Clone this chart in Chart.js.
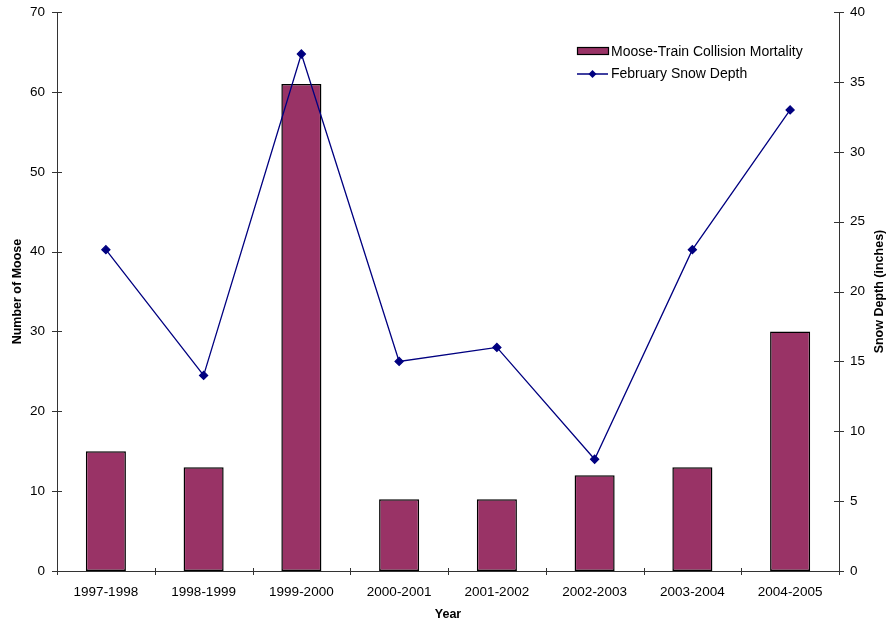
<!DOCTYPE html>
<html>
<head>
<meta charset="utf-8">
<script src="https://cdn.jsdelivr.net/npm/chart.js@4"></script>
<style>
  html, body { margin: 0; padding: 0; background: #fff; }
  #wrap { width: 888px; height: 626px; position: relative; }
</style>
</head>
<body>
<div id="wrap"><canvas id="c" width="888" height="626"></canvas></div>
<script>
const years = ['1997-1998','1998-1999','1999-2000','2000-2001','2001-2002','2002-2003','2003-2004','2004-2005'];
const mooseDeaths = [15, 13, 61, 9, 9, 12, 13, 30];
const snowDepth = [23, 14, 37, 15, 16, 8, 23, 33];
const mooseTicks = [0, 10, 20, 30, 40, 50, 60, 70];
const snowTicks = [0, 5, 10, 15, 20, 25, 30, 35, 40];

const FONT = 'Liberation Sans, Arial, sans-serif';
const AXIS_COLOR = '#333';
const BAR_LABEL = 'Moose-Train Collision Mortality';
const LINE_LABEL = 'February Snow Depth';
const RIGHT_TITLE = 'Snow Depth (inches)';

// Tick marks that straddle each axis line
const crossTicks = {
  id: 'crossTicks',
  afterDraw(chart) {
    const ctx = chart.ctx;
    const { x, yL, yR } = chart.scales;
    ctx.save();
    ctx.strokeStyle = AXIS_COLOR;
    ctx.lineWidth = 1;
    ctx.beginPath();
    const n = years.length;
    const step = (x.right - x.left) / n;
    for (let k = 0; k <= n; k++) {
      const px = Math.round(x.left + k * step) + 0.5;
      ctx.moveTo(px, x.top - 3);
      ctx.lineTo(px, x.top + 4);
    }
    mooseTicks.forEach(v => {
      const py = Math.round(yL.getPixelForValue(v)) + 0.5;
      ctx.moveTo(yL.right - 5, py);
      ctx.lineTo(yL.right + 5, py);
    });
    snowTicks.forEach(v => {
      const py = Math.round(yR.getPixelForValue(v)) + 0.5;
      ctx.moveTo(yR.left - 5, py);
      ctx.lineTo(yR.left + 5, py);
    });
    ctx.stroke();

    // right axis title, reading bottom to top
    const ca = chart.chartArea;
    ctx.translate(880, (ca.top + ca.bottom) / 2);
    ctx.rotate(-Math.PI / 2);
    ctx.font = 'bold 12.5px ' + FONT;
    ctx.fillStyle = '#000';
    ctx.textAlign = 'center';
    ctx.textBaseline = 'middle';
    ctx.fillText(RIGHT_TITLE, 0, 0);
    ctx.restore();
  }
};

// Legend block in the upper right of the plot
const cornerLegend = {
  id: 'cornerLegend',
  afterDraw(chart) {
    const ctx = chart.ctx;
    ctx.save();
    ctx.font = '14px ' + FONT;
    ctx.textBaseline = 'middle';
    // bar entry
    ctx.fillStyle = '#993366';
    ctx.fillRect(577.5, 47.5, 31, 7);
    ctx.strokeStyle = '#000';
    ctx.lineWidth = 1.2;
    ctx.strokeRect(577.5, 47.5, 31, 7);
    ctx.fillStyle = '#000';
    ctx.fillText(BAR_LABEL, 611, 52);
    // line entry
    ctx.strokeStyle = '#000080';
    ctx.lineWidth = 1.5;
    ctx.beginPath();
    ctx.moveTo(577, 74);
    ctx.lineTo(608, 74);
    ctx.stroke();
    ctx.fillStyle = '#000080';
    ctx.beginPath();
    ctx.moveTo(592.5, 70);
    ctx.lineTo(596.5, 74);
    ctx.lineTo(592.5, 78);
    ctx.lineTo(588.5, 74);
    ctx.closePath();
    ctx.fill();
    ctx.fillStyle = '#000';
    ctx.fillText(LINE_LABEL, 611, 74);
    ctx.restore();
  }
};

new Chart(document.getElementById('c'), {
  data: {
    labels: years,
    datasets: [
      {
        type: 'line',
        label: LINE_LABEL,
        data: snowDepth,
        yAxisID: 'yR',
        borderColor: '#000080',
        backgroundColor: '#000080',
        borderWidth: 1.3,
        pointStyle: 'rectRot',
        pointRadius: 4,
        pointHoverRadius: 4,
        tension: 0,
        order: 0
      },
      {
        type: 'bar',
        label: BAR_LABEL,
        data: mooseDeaths,
        yAxisID: 'yL',
        backgroundColor: '#993366',
        borderColor: '#000',
        borderWidth: 1.5,
        borderSkipped: false,
        categoryPercentage: 1.0,
        barPercentage: 0.41,
        order: 1
      }
    ]
  },
  options: {
    responsive: false,
    animation: false,
    layout: { padding: { top: 4, left: 0, right: 0, bottom: 0 } },
    plugins: { legend: { display: false }, tooltip: { enabled: false } },
    scales: {
      x: {
        offset: true,
        grid: { display: false },
        border: { display: true, color: AXIS_COLOR },
        ticks: { color: '#000', font: { family: FONT, size: 13.5 }, padding: 5, maxRotation: 0 },
        title: { display: true, text: 'Year', color: '#000', font: { family: FONT, size: 12.5, weight: 'bold' }, padding: { top: 2 } },
        afterFit(s) { s.height = 55; }
      },
      yL: {
        position: 'left',
        min: 0, max: 70,
        grid: { display: false },
        border: { display: true, color: AXIS_COLOR },
        ticks: { stepSize: 10, color: '#000', font: { family: FONT, size: 13.5 }, padding: 4 },
        title: { display: true, text: 'Number of Moose', color: '#000', font: { family: FONT, size: 12.5, weight: 'bold' }, padding: { top: 10, bottom: 0 } },
        afterFit(s) { s.width = 57; }
      },
      yR: {
        position: 'right',
        min: 0, max: 40,
        grid: { display: false },
        border: { display: true, color: AXIS_COLOR },
        ticks: { stepSize: 5, color: '#000', font: { family: FONT, size: 13.5 }, padding: 3 },
        title: { display: false },
        afterFit(s) { s.width = 49; }
      }
    }
  },
  plugins: [crossTicks, cornerLegend]
});
</script>
</body>
</html>
